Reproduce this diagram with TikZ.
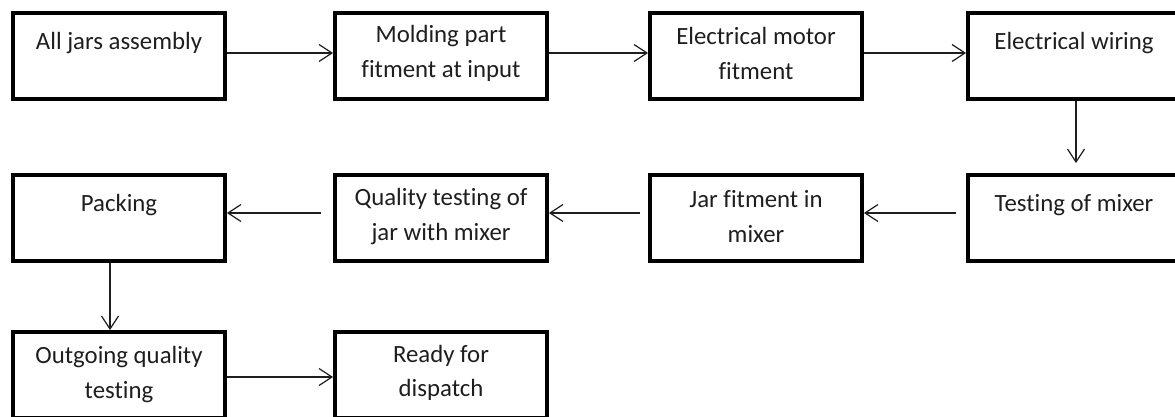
\documentclass[tikz,border=0pt]{standalone}
\usepackage{fontspec}
\setmainfont{Carlito}[Ligatures=NoCommon]
\usetikzlibrary{arrows.meta, positioning, calc}
\definecolor{inkgray}{RGB}{30, 30, 30}

\begin{document}
\begin{tikzpicture}[
        x=1pt, y=-1pt,
        box/.style={rectangle, draw=black, line width=3.8pt, inner sep=0pt,
                    minimum width=212pt, minimum height=86pt},
        txt/.style={align=center, text=inkgray,
                    font=\fontsize{24.8}{34.5}\selectfont},
        arrow/.style={-{Straight Barb[length=13pt, width=17pt]}, line width=1.2pt, draw=inkgray},
    ]
        \useasboundingbox (0,0) rectangle (1175,417);
        \clip (0,0) rectangle (1175,417);

        % row 1
        \node[box] (assembly) at (119,56) {};
        \node[box] (molding) at (441,56) {};
        \node[box] (motor) at (756,56) {};
        \node[box] (wiring) at (1074,56) {};
        % row 2
        \node[box] (testing) at (1074,218) {};
        \node[box] (jar) at (756,218) {};
        \node[box] (quality) at (441,218) {};
        \node[box] (packing) at (119,218) {};
        % row 3
        \node[box] (outgoing) at (119,375) {};
        \node[box] (ready) at (441,375) {};

        % texts
        \node[txt, yshift=13pt] (assembly-t) at (assembly) {All jars assembly};
        \node[txt, yshift=2.5pt] (molding-t) at (molding) {Molding part\\fitment at input};
        \node[txt, yshift=2.5pt] (motor-t) at (motor) {Electrical motor\\fitment};
        \node[txt, yshift=13pt] (wiring-t) at (wiring) {Electrical wiring};
        \node[txt, yshift=13pt] (testing-t) at (testing) {Testing of mixer};
        \node[txt, yshift=1.5pt] (jar-t) at (jar) {Jar fitment in\\mixer};
        \node[txt, yshift=1.5pt] (quality-t) at (quality) {Quality testing of\\jar with mixer};
        \node[txt, yshift=13pt] (packing-t) at (packing) {Packing};
        \node[txt, yshift=0.5pt] (outgoing-t) at (outgoing) {Outgoing quality\\testing};
        \node[txt, yshift=2pt] (ready-t) at (ready) {Ready for\\dispatch};

        \draw[arrow] ([yshift=3pt]assembly.east) -- ([yshift=3pt]molding.west);
        \draw[arrow] ([yshift=3pt]molding.east) -- ([yshift=3pt]motor.west);
        \draw[arrow] ([yshift=3pt]motor.east) -- ([yshift=3pt]wiring.west);
        \draw[arrow, shorten >=10pt] ([xshift=2pt]wiring.south) -- ([xshift=2pt]testing.north);
        \draw[arrow, shorten <=10pt] ([yshift=5pt]testing.west) -- ([yshift=5pt]jar.east);
        \draw[arrow, shorten <=8pt] ([yshift=5pt]jar.west) -- ([yshift=5pt]quality.east);
        \draw[arrow, shorten <=12pt] ([yshift=5pt]quality.west) -- ([yshift=5pt]packing.east);
        \draw[arrow] ([xshift=-9pt]packing.south) -- ([xshift=-9pt]outgoing.north);
        \draw[arrow] ([yshift=-2pt]outgoing.east) -- ([yshift=-2pt]ready.west);

    \end{tikzpicture}
\end{document}
